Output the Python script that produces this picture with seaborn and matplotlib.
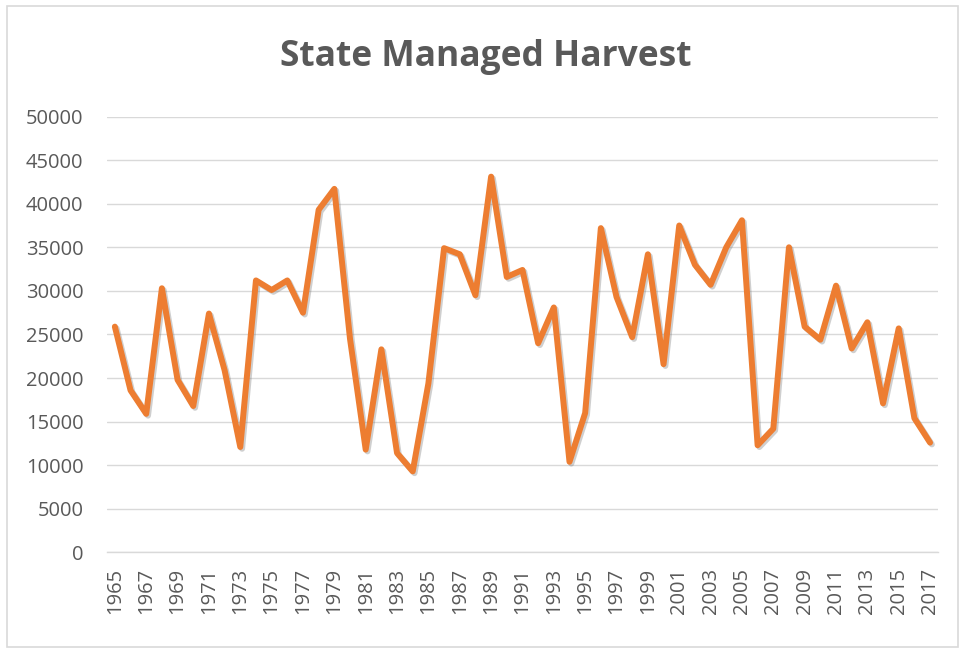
import numpy as np
import pandas as pd
import matplotlib
matplotlib.use("Agg")
import matplotlib.pyplot as plt
import matplotlib.patheffects as pe
import seaborn as sns

# values
years = list(range(1965, 2018))
harvest = [25900, 18600, 15900, 30300, 19800, 16800, 27400, 20900, 12100, 31200,
           30100, 31200, 27500, 39300, 41700, 24500, 11800, 23300, 11400, 9300,
           19400, 34900, 34200, 29500, 43100, 31600, 32400, 24000, 28100, 10400,
           16000, 37200, 29300, 24700, 34200, 21600, 37500, 33000, 30700, 35000,
           38100, 12300, 14200, 35000, 25900, 24400, 30600, 23400, 26400, 17100,
           25700, 15400, 12600]
y_ticks = list(range(0, 50001, 5000))
x_labels = years[::2]

df = pd.DataFrame({"Year": years, "Harvest": harvest})

sns.set_theme(style="white")
plt.rcParams['font.family'] = ['Open Sans', 'DejaVu Sans']

txt = "#595959"
grid = "#D9D9D9"
orange = "#ED7D31"

fig = plt.figure(figsize=(9.59, 6.48), dpi=100)
ax = fig.add_axes([0.1116, 0.1474, 0.8664, 0.6728])

sns.lineplot(data=df, x="Year", y="Harvest", ax=ax, color=orange, linewidth=4.3,
             path_effects=[pe.SimpleLineShadow(offset=(1.3, -1.3), shadow_color="#777777",
                                               alpha=0.35),
                           pe.Normal()])

ax.set_xlim(1964.5, 2017.5)
ax.set_ylim(0, 50000)
ax.set_yticks(y_ticks)
ax.set_yticklabels([str(v) for v in y_ticks])
ax.set_xticks(x_labels)
ax.set_xticklabels([str(v) for v in x_labels], rotation=90)
ax.tick_params(axis="y", length=0, pad=17, labelsize=14.5, labelcolor=txt)
ax.tick_params(axis="x", length=0, pad=11, labelsize=14.5, labelcolor=txt)
ax.set_xlabel("")
ax.set_ylabel("")

ax.grid(axis="y", color=grid, linewidth=1.0)
ax.grid(axis="x", visible=False)
ax.set_axisbelow(True)
for side in ["left", "right", "top"]:
    ax.spines[side].set_visible(False)
ax.spines["bottom"].set_color(grid)
ax.spines["bottom"].set_linewidth(1.0)

fig.text(0.506, 0.912, "State Managed Harvest", ha="center", va="center",
         fontsize=25.5, fontweight="bold", color=txt)

# outer chart border
border = plt.Rectangle((7 / 959, 1 / 648), 951 / 959, 641 / 648, transform=fig.transFigure,
                       fill=False, edgecolor=grid, linewidth=1.2)
fig.patches.append(border)

fig.savefig("out.png", dpi=100)
